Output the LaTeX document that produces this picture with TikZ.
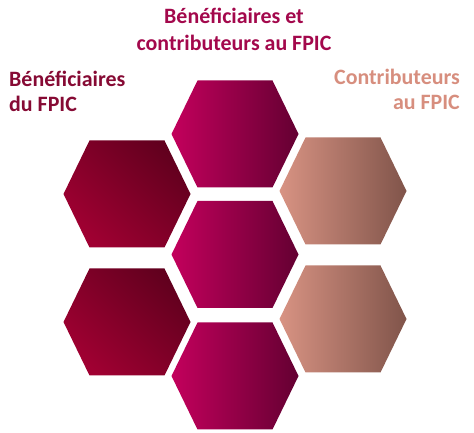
\documentclass[tikz,border=0pt]{standalone}
\usepackage{fontspec}
\setmainfont{Carlito}
\definecolor{midL}{HTML}{C3005C}
\definecolor{midR}{HTML}{640032}
\definecolor{benL}{HTML}{A00032}
\definecolor{benR}{HTML}{62001E}
\definecolor{conL}{HTML}{D89383}
\definecolor{conR}{HTML}{80544A}
\definecolor{titlecol}{HTML}{A3084C}
\definecolor{bencol}{HTML}{860A34}
\definecolor{concol}{HTML}{D78E7E}
\newcommand\hexcell[3]{%
  \begin{scope}[shift={(#1,#2)}]
    \shade[#3] (-63.5,0) -- (-37.5,53.5) -- (37.5,53.5) -- (63.5,0) -- (37.5,-53.5) -- (-37.5,-53.5) -- cycle;
  \end{scope}}
\tikzset{
  midhex/.style={left color=midL, right color=midR},
  benhex/.style={top color=benR, bottom color=benL, shading angle=-45},
  conhex/.style={left color=conL, right color=conR},
  lbl/.style={font=\bfseries\fontsize{22}{26}\selectfont, inner sep=0pt}
}
\begin{document}
\begin{tikzpicture}[x=1bp,y=1bp]
\useasboundingbox (0,0) rectangle (474,433);
\hexcell{127}{239}{benhex}
\hexcell{127}{111}{benhex}
\hexcell{235}{299}{midhex}
\hexcell{235}{178.5}{midhex}
\hexcell{235}{57}{midhex}
\hexcell{343}{242}{conhex}
\hexcell{343}{114}{conhex}
\node[lbl, text=titlecol, anchor=base] (t1) at (234,409.5) {Bénéficiaires et};
\node[lbl, text=titlecol, anchor=base] (t2) at (234,382.3) {contributeurs au FPIC};
\node[lbl, text=bencol, anchor=base west] (b1) at (9,346.3) {Bénéficiaires};
\node[lbl, text=bencol, anchor=base west] (b2) at (9,321.3) {du FPIC};
\node[lbl, text=concol, anchor=base east] (c1) at (460,348) {Contributeurs};
\node[lbl, text=concol, anchor=base east] (c2) at (460,323) {au FPIC};
\end{tikzpicture}
\end{document}
